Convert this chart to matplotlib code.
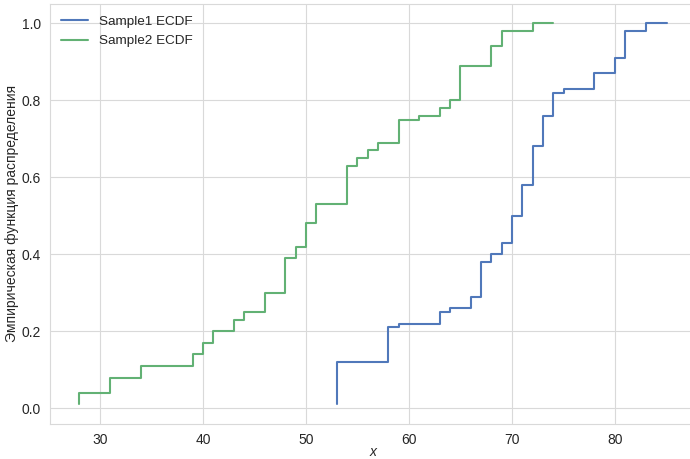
import numpy as np
import matplotlib
matplotlib.use("Agg")
import matplotlib.pyplot as plt
import seaborn as sns

# Distinct observed values and how many times each occurs
sample1_values = [53, 58, 59, 63, 64, 66, 67, 68, 69, 70, 71, 72, 73, 74, 75, 78, 80, 81, 83, 85]
sample1_counts = [11, 9, 1, 3, 1, 3, 9, 2, 3, 7, 8, 10, 8, 6, 1, 4, 4, 7, 2, 1]

sample2_values = [28, 31, 34, 39, 40, 41, 43, 44, 46, 48, 49, 50, 51, 54, 55, 56, 57, 59,
                  61, 63, 64, 65, 68, 69, 72, 74]
sample2_counts = [3, 4, 3, 3, 3, 3, 3, 2, 5, 9, 3, 6, 5, 10, 2, 2, 2, 6,
                  1, 2, 2, 9, 5, 4, 2, 1]

series_labels = ["Sample1 ECDF", "Sample2 ECDF"]
y_label = "Эмпирическая функция распределения"
x_label = "x"

sns.set_style("whitegrid")
plt.rcParams["font.family"] = ["Liberation Sans", "DejaVu Sans"]

fig = plt.figure(figsize=(6.9, 4.59), dpi=100)
ax = fig.add_axes([0.0725, 0.0773, 0.936, 0.9135])

colors = ["#5078BA", "#62B174"]
samples = [(sample1_values, sample1_counts), (sample2_values, sample2_counts)]
for (vals, cnts), lab, col in zip(samples, series_labels, colors):
    data = np.sort(np.repeat(vals, cnts))
    n = len(data)
    ecdf = np.arange(1, n + 1) / n
    ax.step(data, ecdf, where="pre", color=col, lw=1.5, label=lab)

ax.set_xlabel(x_label, fontsize=10, fontstyle="italic", color=".15", labelpad=-1)
ax.set_ylabel(y_label, fontsize=10, color=".15", labelpad=2)
ax.tick_params(axis="both", labelsize=10, colors=".15", pad=3)
ax.grid(True, color=".85", lw=0.8)
for s in ax.spines.values():
    s.set_color(".85")

leg = ax.legend(loc="upper left", frameon=False, fontsize=9.7,
                handlelength=2.0, borderaxespad=0.45)

fig.savefig("out.png", dpi=100)
